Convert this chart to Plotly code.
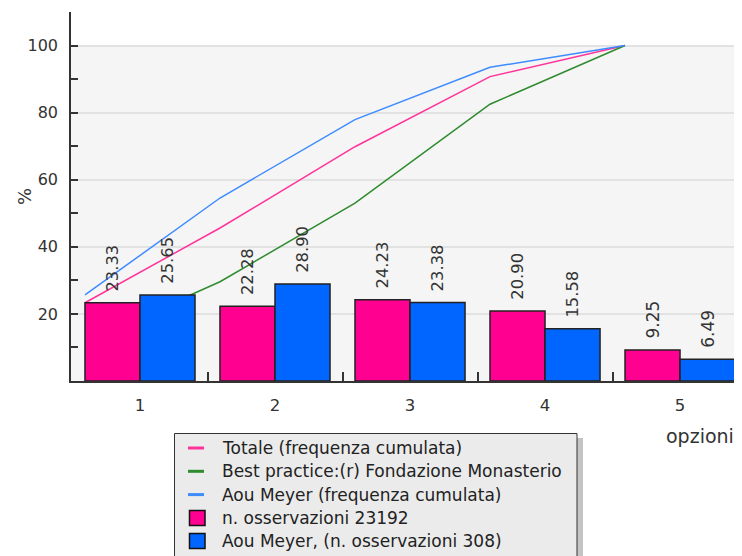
import plotly.graph_objects as go

opzioni = [1, 2, 3, 4, 5]

totale_pct = [23.33, 22.28, 24.23, 20.90, 9.25]
meyer_pct = [25.65, 28.90, 23.38, 15.58, 6.49]

totale_cum = [23.33, 45.61, 69.84, 90.74, 100.0]
best_practice_cum = [11.6, 29.6, 53.0, 82.5, 100.0]
meyer_cum = [25.65, 54.55, 77.93, 93.51, 100.0]

nomi_linee = ['Totale (frequenza cumulata)',
              'Best practice:(r) Fondazione Monasterio',
              'Aou Meyer (frequenza cumulata)']
nomi_barre = ['n. osservazioni 23192', 'Aou Meyer, (n. osservazioni 308)']
col_linee = ['#ff3399', '#2e8b2e', '#3d8bff']
col_barre = ['#ff0090', '#0066ff']

bargap = 0.185
# le linee partono dal bordo sinistro di ogni gruppo di barre
x_lines = [c - (1 - bargap) / 2 for c in opzioni]

# la pagina html ha un margine di 8px sul body
OFF = 8
W, H = 742 - OFF, 556 - OFF
L, R, T, B = 71 - OFF, 0, 12 - OFF, 175
pw, ph = W - L - R, H - T - B
xr = [0.489, 5.459]
yr = [0, 110]


def px(x):
    return (x - OFF - L) / pw


def py(y):
    return (H - B - (y - OFF)) / ph


fig = go.Figure()

# linee sull'asse base (disegnate sotto le barre)
for yv, nome, col in zip([totale_cum, best_practice_cum, meyer_cum], nomi_linee, col_linee):
    fig.add_trace(go.Scatter(x=x_lines, y=yv, mode='lines', name=nome,
                             line=dict(color=col, width=1.5)))

# barre su assi sovrapposti, quindi sopra le linee
for yv, nome, col in zip([totale_pct, meyer_pct], nomi_barre, col_barre):
    fig.add_trace(go.Bar(x=opzioni, y=yv, name=nome, xaxis='x2', yaxis='y2',
                         marker=dict(color=col, line=dict(color='#222', width=1.5)),
                         texttemplate='\u2002%{y:.2f}', textposition='outside',
                         textangle=-90, textfont=dict(size=17, color='#333'),
                         cliponaxis=False))

# sfondo grigio solo fino a 100
fig.add_shape(type='rect', xref='paper', yref='y', x0=0, x1=1, y0=0, y1=100,
              fillcolor='#f5f5f5', line=dict(width=0), layer='below')

# legenda disegnata a mano
fig.add_shape(type='rect', xref='paper', yref='paper',
              x0=px(180), x1=px(583), y0=py(560), y1=py(438),
              fillcolor='#c4c4c4', line=dict(width=0), layer='above')
fig.add_shape(type='rect', xref='paper', yref='paper',
              x0=px(174.5), x1=px(577), y0=py(560), y1=py(433.5),
              fillcolor='#ebebeb', line=dict(color='#333', width=1), layer='above')

righe = [448, 471.3, 494.6, 518, 541]
for i, (nome, col) in enumerate(zip(nomi_linee, col_linee)):
    fig.add_shape(type='line', xref='paper', yref='paper',
                  x0=px(188), x1=px(204), y0=py(righe[i]), y1=py(righe[i]),
                  line=dict(color=col, width=3), layer='above')
for j, col in enumerate(col_barre):
    r = righe[3 + j]
    fig.add_shape(type='rect', xref='paper', yref='paper',
                  x0=px(189.5), x1=px(205), y0=py(r + 7.5), y1=py(r - 7.5),
                  fillcolor=col, line=dict(color='#111', width=1.5), layer='above')
for r, nome in zip(righe, nomi_linee + nomi_barre):
    fig.add_annotation(text=nome, xref='paper', yref='paper', x=px(220), y=py(r),
                       xanchor='left', yanchor='middle', showarrow=False,
                       font=dict(size=17, color='#222'))

fig.add_annotation(text='opzioni', xref='paper', yref='paper',
                   x=px(664), y=py(436), xanchor='left', yanchor='middle',
                   showarrow=False, font=dict(size=19, color='#333'))
fig.add_annotation(text='%', xref='paper', yref='paper',
                   x=px(25), y=py(197), xanchor='center', yanchor='middle',
                   textangle=-90, showarrow=False, font=dict(size=18, color='#333'))

fig.update_layout(
    width=W, height=H,
    margin={'l': L, 'r': R, 't': T, 'b': B, 'autoexpand': False},
    barmode='group', bargap=bargap, bargroupgap=0,
    paper_bgcolor='white', plot_bgcolor='white',
    font=dict(family='DejaVu Sans', size=16, color='#333'),
    showlegend=False,
    xaxis=dict(range=xr, tickvals=opzioni, ticks='',
               showgrid=False, zeroline=False, showline=True,
               linecolor='#333', linewidth=1.5, ticklabelstandoff=8,
               automargin=False, tickfont=dict(size=16.5),
               minor=dict(tickvals=[1.5, 2.5, 3.5, 4.5], ticks='inside',
                          ticklen=9, tickcolor='#333', tickwidth=1.5)),
    yaxis=dict(range=yr, tickvals=[20, 40, 60, 80, 100], ticks='inside',
               ticklen=7, tickcolor='#333', tickwidth=1.5,
               showgrid=True, gridcolor='#e2e2e2', gridwidth=1.5,
               zeroline=False, showline=True, linecolor='#333', linewidth=1.5,
               automargin=False, ticklabelstandoff=8,
               minor=dict(tickvals=[10, 30, 50, 70, 90, 110], ticks='inside',
                          ticklen=7, tickcolor='#333', tickwidth=1.5,
                          showgrid=False)),
    xaxis2=dict(range=xr, overlaying='x', visible=False),
    yaxis2=dict(range=yr, overlaying='y', visible=False),
)

fig.write_html("out.html")
